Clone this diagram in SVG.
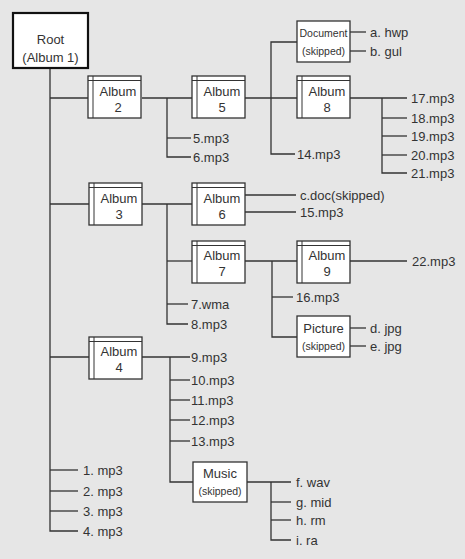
<svg xmlns="http://www.w3.org/2000/svg" width="465" height="559" viewBox="0 0 465 559">
<style>
.bg{fill:#e6e6e6}
.c line,.c polyline{stroke:#333;stroke-width:1.3;fill:none}
.box{fill:#fff;stroke:#333;stroke-width:1.3}
.dl{stroke:#333;stroke-width:1}
.root{fill:#fff;stroke:#111;stroke-width:2.2}
text{font-family:"Liberation Sans",Arial,sans-serif;font-size:13px;fill:#333}
.m{text-anchor:middle}
.s{font-size:10.5px}
</style>
<rect class="bg" x="0" y="0" width="465" height="559"/>
<g class="c" id="connectors">
<polyline points="50,68 50,531 78,531"/>
<line x1="50" y1="98" x2="88" y2="98"/>
<line x1="142" y1="98" x2="192" y2="98"/>
<polyline points="167,98 167,157 191,157"/>
<line x1="167" y1="138" x2="191" y2="138"/>
<line x1="245" y1="98" x2="297" y2="98"/>
<polyline points="297,42 271,42 271,154 295,154"/>
<line x1="350" y1="32" x2="366" y2="32"/>
<line x1="350" y1="51" x2="366" y2="51"/>
<line x1="350" y1="98" x2="407" y2="98"/>
<polyline points="382,98 382,173 407,173"/>
<line x1="382" y1="118" x2="407" y2="118"/>
<line x1="382" y1="136" x2="407" y2="136"/>
<line x1="382" y1="155" x2="407" y2="155"/>
<line x1="50" y1="204" x2="89" y2="204"/>
<line x1="142" y1="204" x2="192" y2="204"/>
<polyline points="167,204 167,324 188,324"/>
<line x1="167" y1="261" x2="192" y2="261"/>
<line x1="167" y1="304" x2="188" y2="304"/>
<line x1="245" y1="195" x2="296" y2="195"/>
<line x1="245" y1="212" x2="296" y2="212"/>
<line x1="245" y1="261" x2="297" y2="261"/>
<line x1="349" y1="261" x2="407" y2="261"/>
<polyline points="272,261 272,337 297,337"/>
<line x1="272" y1="297" x2="293" y2="297"/>
<line x1="350" y1="328" x2="366" y2="328"/>
<line x1="350" y1="346" x2="366" y2="346"/>
<line x1="50" y1="357" x2="89" y2="357"/>
<line x1="142" y1="357" x2="190" y2="357"/>
<polyline points="170,357 170,482 193,482"/>
<line x1="170" y1="380" x2="190" y2="380"/>
<line x1="170" y1="400" x2="190" y2="400"/>
<line x1="170" y1="420" x2="190" y2="420"/>
<line x1="170" y1="441" x2="190" y2="441"/>
<line x1="247" y1="482" x2="291" y2="482"/>
<polyline points="271,482 271,540 291,540"/>
<line x1="271" y1="502" x2="291" y2="502"/>
<line x1="271" y1="520" x2="291" y2="520"/>
<line x1="50" y1="470" x2="78" y2="470"/>
<line x1="50" y1="491" x2="78" y2="491"/>
<line x1="50" y1="511" x2="78" y2="511"/>
</g>
<g id="root">
<rect class="root" x="13" y="13" width="75" height="55"/>
<text class="m" x="50.5" y="44">Root</text>
<text class="m" x="50.5" y="62">(Album 1)</text>
</g>
<defs>
<g id="alb">
<rect class="box" x="0" y="0" width="53" height="42"/>
<line class="dl" x1="5" y1="0" x2="5" y2="42"/>
<line class="dl" x1="0" y1="4.5" x2="53" y2="4.5"/>
</g>
</defs>
<g id="album2"><use href="#alb" x="88" y="76"/><text class="m" x="118" y="96">Album</text><text class="m" x="118" y="112">2</text></g>
<g id="album5"><use href="#alb" x="192" y="76"/><text class="m" x="222" y="96">Album</text><text class="m" x="222" y="112">5</text></g>
<g id="album8"><use href="#alb" x="297" y="76"/><text class="m" x="327" y="96">Album</text><text class="m" x="327" y="112">8</text></g>
<g id="album3"><use href="#alb" x="89" y="183"/><text class="m" x="119" y="203">Album</text><text class="m" x="119" y="219">3</text></g>
<g id="album6"><use href="#alb" x="192" y="183"/><text class="m" x="222" y="203">Album</text><text class="m" x="222" y="219">6</text></g>
<g id="album7"><use href="#alb" x="192" y="241"/><text class="m" x="222" y="260">Album</text><text class="m" x="222" y="276">7</text></g>
<g id="album9"><use href="#alb" x="297" y="241"/><text class="m" x="327" y="260">Album</text><text class="m" x="327" y="276">9</text></g>
<g id="album4"><use href="#alb" x="89" y="337"/><text class="m" x="119" y="356">Album</text><text class="m" x="119" y="372">4</text></g>
<g id="document">
<rect class="box" x="297" y="21" width="53" height="41"/>
<text class="m s" x="323.5" y="37" textLength="48" lengthAdjust="spacingAndGlyphs">Document</text>
<text class="m s" x="323.5" y="55">(skipped)</text>
</g>
<g id="picture">
<rect class="box" x="297" y="316" width="53" height="41"/>
<text class="m" x="323.5" y="333">Picture</text>
<text class="m s" x="323.5" y="350">(skipped)</text>
</g>
<g id="music">
<rect class="box" x="193" y="462" width="54" height="40"/>
<text class="m" x="220" y="478">Music</text>
<text class="m s" x="220" y="495">(skipped)</text>
</g>
<g id="leaves">
<text x="370" y="36.5">a. hwp</text>
<text x="370" y="55.5">b. gul</text>
<text x="193" y="142.5">5.mp3</text>
<text x="193" y="161.5">6.mp3</text>
<text x="297" y="158.5">14.mp3</text>
<text x="411" y="102.5">17.mp3</text>
<text x="411" y="122.5">18.mp3</text>
<text x="411" y="140.5">19.mp3</text>
<text x="411" y="159.5">20.mp3</text>
<text x="411" y="177.5">21.mp3</text>
<text x="300" y="199.5">c.doc(skipped)</text>
<text x="300" y="216.5">15.mp3</text>
<text x="412" y="265.5">22.mp3</text>
<text x="296" y="301.5">16.mp3</text>
<text x="370" y="332.5">d. jpg</text>
<text x="370" y="350.5">e. jpg</text>
<text x="191" y="308.5">7.wma</text>
<text x="191" y="328.5">8.mp3</text>
<text x="191" y="361.5">9.mp3</text>
<text x="191" y="384.5">10.mp3</text>
<text x="191" y="404.5">11.mp3</text>
<text x="191" y="424.5">12.mp3</text>
<text x="191" y="445.5">13.mp3</text>
<text x="296" y="486.5">f. wav</text>
<text x="296" y="506.5">g. mid</text>
<text x="296" y="524.5">h. rm</text>
<text x="296" y="544.5">i. ra</text>
<text x="83" y="474.5">1. mp3</text>
<text x="83" y="495.5">2. mp3</text>
<text x="83" y="515.5">3. mp3</text>
<text x="83" y="535.5">4. mp3</text>
</g>
</svg>
